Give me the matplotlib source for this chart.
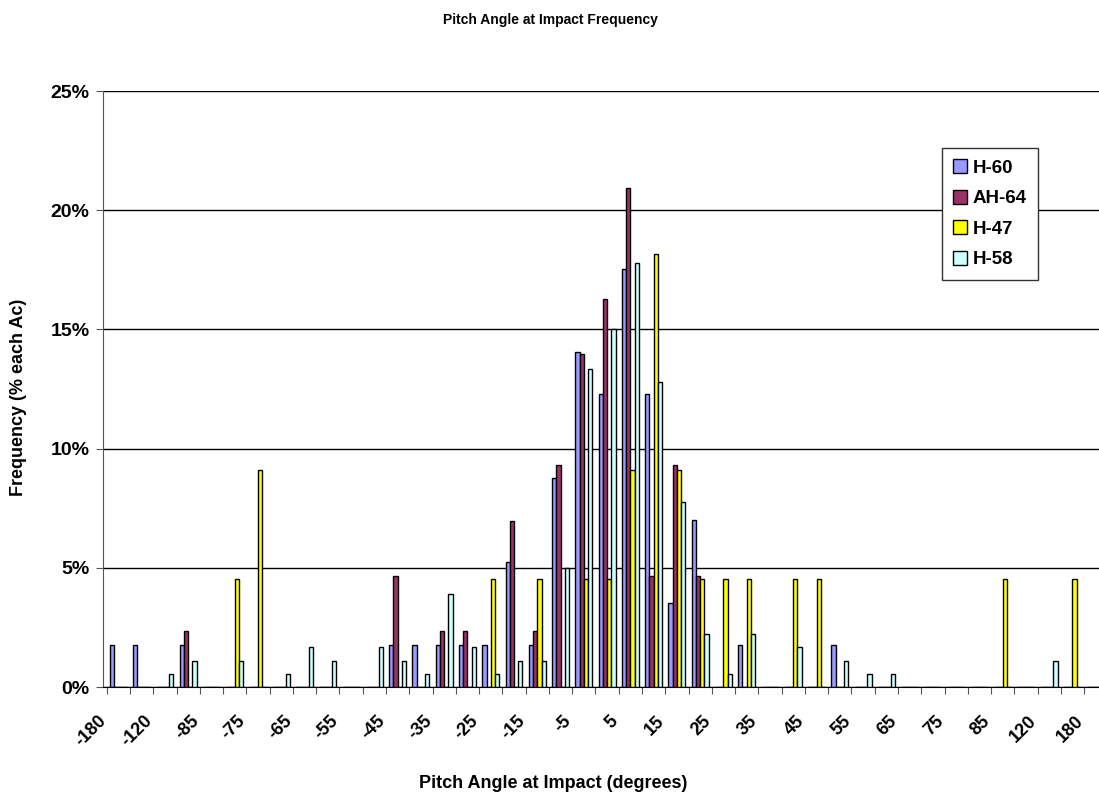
import numpy as np
import matplotlib
matplotlib.use("Agg")
import matplotlib.pyplot as plt
from matplotlib.ticker import FuncFormatter

plt.rcParams['font.family'] = ['Liberation Sans', 'DejaVu Sans']
plt.rcParams['font.weight'] = 'bold'
plt.rcParams['axes.labelweight'] = 'bold'

# pitch angle categories (degrees)
angles = ['-180', '-150', '-120', '-90', '-85', '-80', '-75', '-70', '-65', '-60',
          '-55', '-50', '-45', '-40', '-35', '-30', '-25', '-20', '-15', '-10',
          '-5', '0', '5', '10', '15', '20', '25', '30', '35', '40',
          '45', '50', '55', '60', '65', '70', '75', '80', '85', '90',
          '120', '150', '180']

# frequency in % of each aircraft type
h60 = [1.75, 1.75, 0, 1.75, 0, 0, 0, 0, 0, 0,
       0, 0, 1.75, 1.75, 1.75, 1.75, 1.75, 5.26, 1.75, 8.77,
       14.04, 12.28, 17.54, 12.28, 3.51, 7.02, 0, 1.75, 0, 0,
       0, 1.75, 0, 0, 0, 0, 0, 0, 0, 0,
       0, 0, 0]
ah64 = [0, 0, 0, 2.33, 0, 0, 0, 0, 0, 0,
        0, 0, 4.65, 0, 2.33, 2.33, 0, 6.98, 2.33, 9.30,
        13.95, 16.28, 20.93, 4.65, 9.30, 4.65, 0, 0, 0, 0,
        0, 0, 0, 0, 0, 0, 0, 0, 0, 0,
        0, 0, 0]
h47 = [0, 0, 0, 0, 0, 4.55, 9.09, 0, 0, 0,
       0, 0, 0, 0, 0, 0, 4.55, 0, 4.55, 0,
       4.55, 4.55, 9.09, 18.18, 9.09, 4.55, 4.55, 4.55, 0, 4.55,
       4.55, 0, 0, 0, 0, 0, 0, 0, 4.55, 0,
       0, 4.55, 0]
h58 = [0, 0, 0.56, 1.11, 0, 1.11, 0, 0.56, 1.67, 1.11,
       0, 1.67, 1.11, 0.56, 3.89, 1.67, 0.56, 1.11, 1.11, 5.00,
       13.33, 15.00, 17.78, 12.78, 7.78, 2.22, 0.56, 2.22, 0, 1.67,
       0, 1.11, 0.56, 0.56, 0, 0, 0, 0, 0, 0,
       1.11, 0, 0.56]

series = [('H-60', h60, '#9999FF'), ('AH-64', ah64, '#993366'),
          ('H-47', h47, '#FFFF00'), ('H-58', h58, '#CCFFFF')]

W, H = 1099, 798
fig = plt.figure(figsize=(W / 100, H / 100), dpi=100)
# plot area runs a little past the right edge of the picture, as in the original
ax = fig.add_axes([103.3 / W, 1 - 687 / H, (1107.4 - 103.3) / W, (687 - 91) / H])

x = np.arange(len(angles))
bw = 1 / 5.5
for i, (name, vals, col) in enumerate(series):
    ax.bar(x + (i - 1.5) * bw, vals, bw, color=col, edgecolor='black',
           linewidth=1.0, label=name, zorder=3)

ax.set_xlim(-0.5, len(angles) - 0.5)
ax.set_ylim(0, 25)
ax.set_yticks(np.arange(0, 26, 5))
ax.yaxis.set_major_formatter(FuncFormatter(lambda v, p: '%d%%' % v))
ax.yaxis.grid(True, color='black', linewidth=1.0, zorder=0)
ax.set_axisbelow(True)

for s in ['top', 'right']:
    ax.spines[s].set_visible(False)
ax.spines['left'].set_color('#555555')
ax.spines['bottom'].set_color('black')

ax.tick_params(axis='y', direction='out', length=5, color='#555555',
               labelsize=14, pad=5)
# tick marks between categories, labels on every second category
ax.set_xticks(np.arange(-0.5, len(angles), 1.0))
ax.tick_params(axis='x', which='major', direction='out', length=5,
               color='#555555', labelbottom=False)
ax.set_xticks(x[::2] - 0.65, angles[::2], minor=True)
ax.tick_params(axis='x', which='minor', length=0, pad=22.5, labelsize=13)
for lab in ax.get_xticklabels(minor=True):
    lab.set_rotation(45)
    lab.set_ha('right')
    lab.set_va('center')
    lab.set_rotation_mode('anchor')

fig.text(553 / W, 1 - 784 / H, 'Pitch Angle at Impact (degrees)', ha='center',
         va='center', fontsize=13, fontweight='bold')
fig.text(19 / W, 1 - 397 / H, 'Frequency (% each Ac)', ha='center',
         va='center', rotation=90, fontsize=13, fontweight='bold')
fig.text(550 / W, 1 - 20 / H, 'Pitch Angle at Impact Frequency', ha='center',
         va='center', fontsize=10, fontweight='bold')

leg = ax.legend(loc='upper left', bbox_to_anchor=(942 / W, 1 - 148 / H),
                bbox_transform=fig.transFigure, borderaxespad=0,
                fancybox=False, framealpha=1, edgecolor='#333333',
                fontsize=13.5, handlelength=0.75, handleheight=0.75,
                handletextpad=0.3, labelspacing=0.7, borderpad=0.6)
leg.get_frame().set_linewidth(1.0)

fig.savefig('out.png', dpi=100)
